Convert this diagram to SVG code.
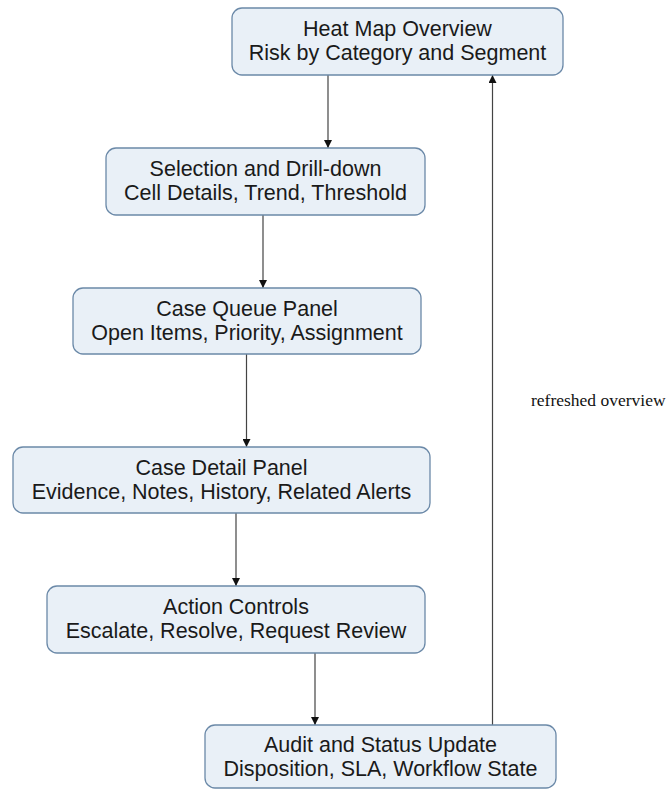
<svg xmlns="http://www.w3.org/2000/svg" width="668" height="789" viewBox="0 0 668 789">
<defs>
<style>
.node rect{fill:#e9f0f7;stroke:#6b89a8;stroke-width:1.3}
.node text{font-family:"Liberation Sans",Arial,sans-serif;font-size:21.5px;fill:#1a1a1a;text-anchor:middle}
.edge{stroke:#444;stroke-width:1.2;fill:none;marker-end:url(#arr)}
.lbl{font-family:"Liberation Serif","Times New Roman",serif;font-size:17.5px;fill:#111}
</style>
<marker id="arr" viewBox="0 0 10 10" refX="10" refY="5" markerWidth="8" markerHeight="8" markerUnits="userSpaceOnUse" orient="auto">
<path d="M0,0 L10,5 L0,10 z" fill="#111"/>
</marker>
</defs>
<rect width="668" height="789" fill="#ffffff"/>
<g id="connectors">
<line class="edge" x1="328" y1="75" x2="328" y2="148"/>
<line class="edge" x1="263" y1="215" x2="263" y2="288"/>
<line class="edge" x1="246.5" y1="354" x2="246.5" y2="447"/>
<line class="edge" x1="236" y1="513" x2="236" y2="586"/>
<line class="edge" x1="315" y1="653" x2="315" y2="725"/>
<line class="edge" x1="492.5" y1="725" x2="492.5" y2="75"/>
<text class="lbl" x="531" y="406">refreshed overview</text>
</g>
<g id="n1" class="node">
<rect x="232" y="8" width="331" height="67" rx="10"/>
<text x="397.5" y="36">Heat Map Overview</text>
<text x="397.5" y="60">Risk by Category and Segment</text>
</g>
<g id="n2" class="node">
<rect x="106" y="148" width="319" height="67" rx="10"/>
<text x="265.5" y="176">Selection and Drill-down</text>
<text x="265.5" y="200">Cell Details, Trend, Threshold</text>
</g>
<g id="n3" class="node">
<rect x="73" y="288" width="348" height="66" rx="10"/>
<text x="247" y="316">Case Queue Panel</text>
<text x="247" y="340">Open Items, Priority, Assignment</text>
</g>
<g id="n4" class="node">
<rect x="13" y="447" width="417" height="66" rx="10"/>
<text x="221.5" y="475">Case Detail Panel</text>
<text x="221.5" y="499">Evidence, Notes, History, Related Alerts</text>
</g>
<g id="n5" class="node">
<rect x="47" y="586" width="378" height="67" rx="10"/>
<text x="236" y="614">Action Controls</text>
<text x="236" y="638">Escalate, Resolve, Request Review</text>
</g>
<g id="n6" class="node">
<rect x="205" y="725" width="351" height="63" rx="10"/>
<text x="380.5" y="752">Audit and Status Update</text>
<text x="380.5" y="776">Disposition, SLA, Workflow State</text>
</g>
</svg>
